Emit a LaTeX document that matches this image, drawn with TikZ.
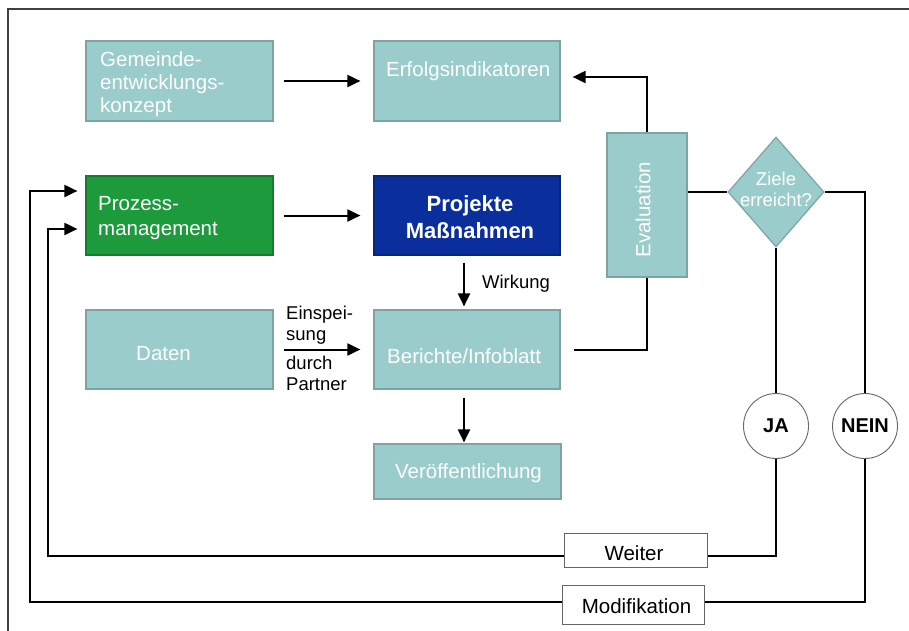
\documentclass[tikz,border=0pt]{standalone}
\usepackage{fontspec}
\setmainfont{Liberation Sans}
\usetikzlibrary{shapes.geometric,arrows.meta}
\definecolor{teal1}{HTML}{9ACCCC}
\definecolor{tealb}{HTML}{7FA3A3}
\definecolor{grn}{HTML}{1C9A3C}
\definecolor{blu}{HTML}{0A2E9B}
\tikzset{
  box/.style={draw=tealb, line width=1.2pt, fill=teal1, inner sep=0pt},
  txt/.style={text=white, inner sep=0pt, align=left, anchor=west,
    font=\fontsize{20.5}{23}\selectfont},
  conn/.style={line width=2pt, draw=black},
  arr/.style={conn, -{Triangle[length=13pt,width=12pt]}},
  circ/.style={circle, draw=gray!80!black, line width=0.9pt, fill=white, minimum size=65pt, inner sep=0pt,
    font=\fontsize{20}{22}\selectfont\bfseries},
  wbox/.style={draw=gray!80!black, line width=1pt, fill=white, inner sep=0pt,
    font=\fontsize{20.5}{22}\selectfont},
  lbl/.style={inner sep=0pt, align=left, font=\fontsize{18.5}{21}\selectfont},
}
\begin{document}
\begin{tikzpicture}[x=1pt,y=-1pt]
\useasboundingbox (0,0) rectangle (909,630);
% frame
\draw[line width=1.2pt, draw=black!75] (8,631) -- (8,9) -- (910,9);

% boxes
\node[box, minimum width=187pt, minimum height=80pt] (gem) at (179.5,81) {};
\node[txt] (gemt) at (100,84) {Gemeinde-\\entwicklungs-\\konzept};
\node[box, minimum width=186pt, minimum height=80pt] (erf) at (467,81) {};
\node[txt] (erft) at (386,71) {Erfolgsindikatoren};
\node[box, fill=grn, draw=grn!80!black, minimum width=187pt, minimum height=79pt] (proz) at (179.5,215.5) {};
\node[txt, font=\fontsize{20.5}{25}\selectfont] (prozt) at (98,218) {Prozess-\\management};
\node[box, fill=blu, draw=blu!80!black, minimum width=186pt, minimum height=79pt] (proj) at (467,215.5) {};
\node[txt, anchor=center, align=center, font=\fontsize{22}{27}\selectfont\bfseries] (projt) at (470,217)
  {Projekte\\Maßnahmen};
\node[box, minimum width=187pt, minimum height=79pt] (dat) at (179.5,349.5) {};
\node[txt] (datt) at (136,354) {Daten};
\node[box, minimum width=186pt, minimum height=79pt] (ber) at (467,349.5) {};
\node[txt] (bert) at (387,356) {Berichte/Infoblatt};
\node[box, minimum width=187pt, minimum height=55pt] (ver) at (467.5,471.5) {};
\node[txt, anchor=center] (vert) at (468.5,473) {Veröffentlichung};
\node[box, minimum width=80pt, minimum height=144pt] (eva) at (647,205) {};
\node[txt, anchor=center, rotate=90] (evat) at (643,209.5) {Evaluation};
\node[shape=diamond, draw=tealb, line width=1.2pt, fill=teal1, inner sep=0pt,
  minimum width=96pt, minimum height=110pt] (zr) at (776,192) {};
\node[txt, anchor=center, align=center, font=\fontsize{18.5}{21}\selectfont] (zrt) at (776,189) {Ziele\\erreicht?};

\node[circ] (ja) at (776,426) {JA};
\node[circ] (nein) at (865,426) {NEIN};
\node[wbox, minimum width=143pt, minimum height=34pt] (wei) at (635.5,550) {};
\node[inner sep=0pt, font=\fontsize{20.5}{22}\selectfont] (weit) at (634,553) {Weiter};
\node[wbox, minimum width=142pt, minimum height=39pt] (mod) at (633,604.5) {};
\node[inner sep=0pt, font=\fontsize{20.5}{22}\selectfont] (modt) at (636.5,606) {Modifikation};

% labels
\node[lbl] (wirk) at (516,284) {Wirkung};
\node[lbl, anchor=south west] (einsp) at (286,345) {Einspei-\\sung};
\node[lbl, anchor=north west] (durch) at (286,356) {durch\\Partner};

% arrows
\draw[arr, shorten <=10pt, shorten >=13pt] (gem) -- (erf);
\draw[arr, shorten <=10pt, shorten >=13pt] (proz) -- (proj);
\draw[arr, shorten <=10pt, shorten >=13pt] (dat) -- (ber);
\draw[arr, shorten <=7pt, shorten >=3pt] (proj.south -| 464,0) -- (ber.north -| 464,0);
\draw[arr, shorten <=8pt, shorten >=1pt] (ber.south -| 464,0) -- (ver.north -| 464,0);
\draw[conn] ([xshift=13pt]ber.east) -| (eva.south);
\draw[arr, shorten >=12pt] (eva.north) |- ([yshift=4pt]erf.east);
\draw[conn] (eva.east |- zr.west) -- (zr.west);
\draw[conn] (zr.east) -| (nein.north);
\draw[conn] (zr.south) -- (ja.north);
\draw[conn] (ja.south) |- ([yshift=-6pt]wei.east);
\draw[conn] (nein.south) |- ([yshift=2.5pt]mod.east);
\draw[arr, shorten >=8pt] ([yshift=-6pt]wei.west) -| (48,229) -- ([yshift=-13.5pt]proz.west);
\draw[arr, shorten >=8pt] ([yshift=2.5pt]mod.west) -| (30,191) -- ([yshift=24.5pt]proz.west);
\end{tikzpicture}
\end{document}
